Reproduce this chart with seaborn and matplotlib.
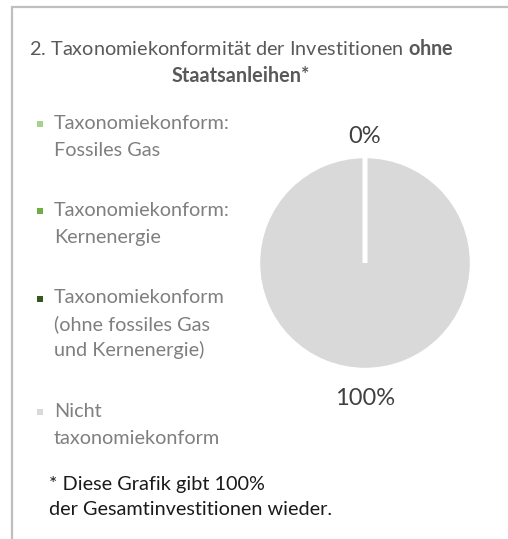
"""
Taxonomy alignment pie (excluding sovereign bonds)
"""

import matplotlib.pyplot as plt
import seaborn as sns
from matplotlib.legend_handler import HandlerPatch
from matplotlib.patches import Patch, Rectangle

# data
categories = [
    "Taxonomiekonform:\nFossiles Gas",
    "Taxonomiekonform:\nKernenergie",
    "Taxonomiekonform\n(ohne fossiles Gas\nund Kernenergie)",
    "Nicht\ntaxonomiekonform",
]
shares = [0, 0, 0, 100]
colors = ["#a9d18e", "#70ad47", "#375623", "#d9d9d9"]

title_line1 = "2. Taxonomiekonformität der Investitionen $\\mathbf{ohne}$"
title_line2 = "Staatsanleihen*"
footnote = "* Diese Grafik gibt 100%\nder Gesamtinvestitionen wieder."

sns.set_theme(style="white")
plt.rcParams["font.family"] = ["Lato", "DejaVu Sans"]
plt.rcParams["mathtext.fontset"] = "custom"
plt.rcParams["mathtext.bf"] = "Lato:bold"
plt.rcParams["mathtext.rm"] = "Lato"

FS = 14.3
W, H = 508, 539
fig = plt.figure(figsize=(W / 100, H / 100), dpi=100)
fig.patch.set_facecolor("white")

# light grey frame (only top and left edges are visible in the crop)
fig.add_artist(Rectangle((12 / W, -0.2), 1.5, 1.2 - 7 / H,
                         transform=fig.transFigure, fill=False,
                         edgecolor="#bfbfbf", linewidth=1.6))

# pie
cx, cy, r = 365, 263, 107
ax = fig.add_axes([(cx - r) / W, (H - cy - r) / H, 2 * r / W, 2 * r / H])
wedges, texts, autotexts = ax.pie(
    shares,
    colors=colors,
    startangle=90,
    counterclock=False,
    autopct="%1.0f%%",
    pctdistance=1.225,
    wedgeprops=dict(edgecolor="white", linewidth=3.2),
    textprops=dict(color="#404040", fontsize=17),
)
# empty slices show up as a white divider on top of the full slice
for w, v in zip(wedges, shares):
    if v == 0:
        w.set_zorder(3)
# the three 0% labels sit on top of each other, keep one
for t in autotexts[1:3]:
    t.set_visible(False)
for t in autotexts:
    x, y = t.get_position()
    t.set_position((x, y - 0.025))  # labels sit a touch lower in the original
    t.set_va("center_baseline")
ax.set_xlim(-1, 1)
ax.set_ylim(-1, 1)
ax.axis("off")

# title
fig.text(241 / W, 1 - 48 / H, title_line1, ha="center", va="center",
         fontsize=FS, color="#595959")
fig.text(241 / W, 1 - 76 / H, title_line2, ha="center", va="center",
         fontsize=FS, color="#595959", fontweight="bold")

# legend, markers aligned with the first line of each label
LINE_PITCH = 18.4  # points between text lines


def first_line_square(legend, orig_handle, xdescent, ydescent, width, height, fontsize):
    # legend centres the handle on the text block, move it up to line one
    extra = orig_handle.get_label().count("\n") * LINE_PITCH / 2
    side = 4.0
    return Rectangle((width - xdescent - side, (height - side) / 2 - ydescent + extra),
                     side, side)


handles = [Patch(facecolor=c, edgecolor="none", label=lab)
           for c, lab in zip(colors, categories)]
leg = fig.legend(
    handles=handles,
    loc="upper left",
    bbox_to_anchor=(33 / W, 1 - 115 / H),
    frameon=False,
    borderpad=0,
    borderaxespad=0,
    fontsize=FS,
    handlelength=0.5,
    handleheight=0.7,
    handletextpad=0.55,
    labelspacing=2.2,
    labelcolor="#7f7f7f",
    handler_map={Patch: HandlerPatch(patch_func=first_line_square)},
)
for t in leg.get_texts():
    # brackets are taller than the other glyphs, tighten those lines
    t.set_linespacing(1.57 if "(" in t.get_text() else 1.68)

# footnote
fig.text(49 / W, 1 - 497 / H, footnote, ha="left", va="center",
         fontsize=FS, color="#1a1a1a", linespacing=1.6)

fig.savefig("out.png", dpi=100)
